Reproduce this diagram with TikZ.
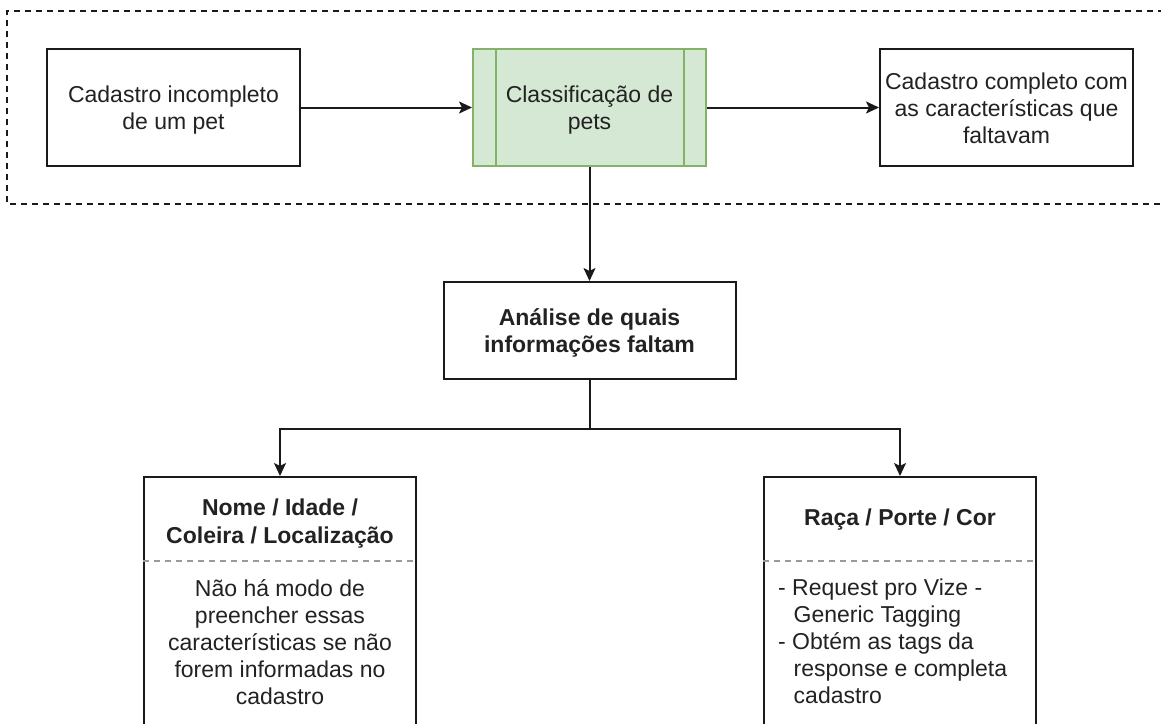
\documentclass[tikz,border=0pt]{standalone}
\usepackage{fontspec}
\setmainfont{Liberation Sans}
\usetikzlibrary{arrows.meta}
\definecolor{ink}{HTML}{1A1A1A}
\definecolor{txt}{HTML}{222222}
\definecolor{procfill}{HTML}{D5E8D4}
\definecolor{procline}{HTML}{82B366}
\definecolor{sepline}{HTML}{9A9A9A}
\tikzset{
  box/.style={draw=ink, line width=2pt, fill=white, inner sep=0pt, text=txt},
  proc/.style={draw=procline, fill=procfill, line width=2pt, inner sep=0pt, text=txt},
  lbl/.style={inner sep=0pt, text=txt, align=center, font=\fontsize{23}{27}\selectfont},
  lbll/.style={inner sep=0pt, text=txt, align=left, font=\fontsize{23}{27}\selectfont},
  arr/.style={draw=ink, line width=2pt, -{Stealth[length=13pt,width=12pt,inset=3pt]}},
  link/.style={draw=ink, line width=2pt},
  frame/.style={draw=ink, line width=1.5pt, dash pattern=on 6pt off 5pt},
  sep/.style={draw=sepline, line width=2pt, dash pattern=on 6pt off 5pt},
}
\begin{document}
\begin{tikzpicture}[x=1pt, y=-1pt]
\useasboundingbox (0,0) rectangle (1161,723);

% dashed group around the top row
\draw[frame] (1175,11) -- (7,11) -- (7,204) -- (1175,204);

% top row (text anchors sit on the baseline of the last line)
\node[box, minimum width=253pt, minimum height=117pt] (inc) at (173.5,107.5) {};
\node[lbl, anchor=base] (inctxt) at (173.5,129) {Cadastro incompleto\\de um pet};

\node[proc, minimum width=233pt, minimum height=117pt] (cls) at (589.5,107.5) {};
\draw[procline, line width=2pt] ([xshift=24pt]cls.north west) -- ([xshift=24pt]cls.south west);
\draw[procline, line width=2pt] ([xshift=-23pt]cls.north east) -- ([xshift=-23pt]cls.south east);
\node[lbl, anchor=base] (clstxt) at (589.5,129) {Classificação de\\pets};

\node[box, minimum width=253pt, minimum height=117pt] (done) at (1006.5,107.5) {};
\node[lbl, anchor=base] (donetxt) at (1006.5,143) {Cadastro completo com\\as características que\\faltavam};

\draw[arr] (inc.east) -- (cls.west);
\draw[arr] (cls.east) -- (done.west);

% analysis step
\node[box, minimum width=292pt, minimum height=97pt] (ana) at (589.5,330.5) {};
\node[lbl, anchor=base, font=\fontsize{23}{27}\selectfont\bfseries] (anatxt) at (589.5,352) {Análise de quais\\informações faltam};
\draw[arr] (cls.south) -- (ana.north);

% bottom boxes, running past the lower edge
\node[box, minimum width=272pt, minimum height=300pt, anchor=north] (lbox) at (280,476) {};
\node[box, minimum width=272pt, minimum height=300pt, anchor=north] (rbox) at (900,476) {};

\draw[link] (ana.south) -- ++(0,49) coordinate (split);
\draw[arr] (split) -| (lbox.north);
\draw[arr] (split) -| (rbox.north);

\draw[sep] (lbox.west |- 0,561) -- (lbox.east |- 0,561);
\draw[sep] (rbox.west |- 0,561) -- (rbox.east |- 0,561);

\node[lbl, anchor=base, font=\fontsize{23}{28}\selectfont\bfseries] (lhead) at (280,543) {Nome / Idade /\\Coleira / Localização};
\node[lbl, anchor=base] (lbody) at (280,704) {Não há modo de\\preencher essas\\características se não\\forem informadas no\\cadastro};

\node[lbl, anchor=base, font=\fontsize{23}{27}\selectfont\bfseries] (rhead) at (900,525) {Raça / Porte / Cor};
\node[lbll, anchor=base west] (rbody) at (778,703) {- Request pro Vize -\\\hspace*{15.5pt}Generic Tagging\\- Obtém as tags da\\\hspace*{15.5pt}response e completa\\\hspace*{15.5pt}cadastro};
\end{tikzpicture}
\end{document}
